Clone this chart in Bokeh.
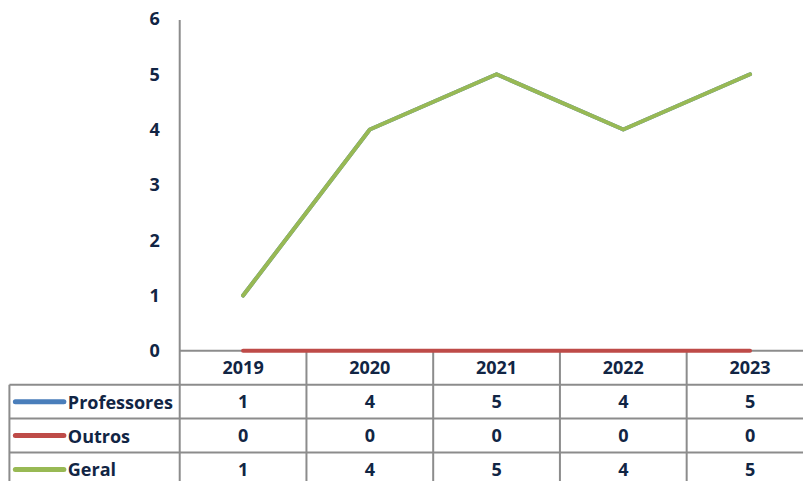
from bokeh.plotting import figure
from bokeh.models import Range1d
from bokeh.core.properties import value
from bokeh.embed import file_html
from bokeh.resources import INLINE

years = ["2019", "2020", "2021", "2022", "2023"]
professores = [1, 4, 5, 4, 5]
outros = [0, 0, 0, 0, 0]
geral = [1, 4, 5, 4, 5]
series_names = ["Professores", "Outros", "Geral"]
series_values = [professores, outros, geral]
series_colors = ["#4a7ebb", "#be4b48", "#98b954"]
y_ticks = [0, 1, 2, 3, 4, 5, 6]

# figure size and scale from the 811x497 design to the figure
W, H = 803, 481
SX = W / 811.0
SY = H / 497.0

# design geometry (reference pixels)
PX_X = 128.0 * SX     # pixels per category
PX_Y = 57.1667 * SY   # pixels per y unit
cx0 = 245 * SX        # centre of first category
cy0 = 362 * SY        # y = 0 position
x0 = (0 - cx0) / PX_X
x1 = (W - cx0) / PX_X
y1 = cy0 / PX_Y
y0 = (cy0 - H) / PX_Y
row_h = 35 * SY / PX_Y
left_edge = (9 * SX - cx0) / PX_X


def xpx(px):
    return (px * SX - cx0) / PX_X


FONT = value("Open Sans")
FS = "18px"
TXT = "#112544"
GRID = "#8c8c8c"

p = figure(width=W, height=H, output_backend="svg", toolbar_location=None,
           x_range=Range1d(x0, x1), y_range=Range1d(y0, y1),
           min_border=0, min_border_left=0, min_border_right=0,
           min_border_top=0, min_border_bottom=0)
p.axis.visible = False
p.grid.visible = False
p.outline_line_color = None
p.background_fill_color = "white"
p.border_fill_color = "white"

xs = list(range(len(years)))
n = len(years)

bottom = y0 - 1
# vertical axis line
p.segment(x0=[-0.5], y0=[max(y_ticks) - 0.02], x1=[-0.5], y1=[bottom], line_color=GRID, line_width=2)
# column separators
p.segment(x0=[i + 0.5 for i in xs], y0=[0] * n, x1=[i + 0.5 for i in xs], y1=[bottom] * n,
          line_color=GRID, line_width=2)
# table left border
p.segment(x0=[left_edge], y0=[-row_h], x1=[left_edge], y1=[bottom], line_color=GRID, line_width=2)
# horizontal axis line
p.segment(x0=[-0.5], y0=[0], x1=[x1 + 1], y1=[0], line_color=GRID, line_width=2)
# row separators
row_lines = [-row_h * (k + 1) for k in range(len(series_names))]
p.segment(x0=[left_edge] * len(row_lines), y0=row_lines, x1=[x1 + 1] * len(row_lines), y1=row_lines,
          line_color=GRID, line_width=2)

# series lines
for vals, col in zip(series_values, series_colors):
    p.line(xs, vals, line_color=col, line_width=4, line_cap="round", line_join="round")

# y tick labels
p.text(x=[-0.5] * len(y_ticks), y=y_ticks, text=[str(t) for t in y_ticks],
       x_offset=-20, text_align="right", text_baseline="middle",
       text_font=FONT, text_font_style="bold", text_font_size=FS, text_color=TXT)

# header row (years)
p.text(x=xs, y=[-row_h / 2] * n, text=years, text_align="center", text_baseline="middle",
       text_font=FONT, text_font_style="bold", text_font_size=FS, text_color=TXT)

# data rows
sw_x0 = xpx(15)
sw_x1 = xpx(64)
lab_x = xpx(68)
for k, (name, vals, col) in enumerate(zip(series_names, series_values, series_colors)):
    yc = -row_h * (k + 1.5)
    p.line([sw_x0, sw_x1], [yc, yc], line_color=col, line_width=5, line_cap="round")
    p.text(x=[lab_x], y=[yc], text=[name], text_align="left", text_baseline="middle",
           text_font=FONT, text_font_style="bold", text_font_size=FS, text_color=TXT)
    p.text(x=xs, y=[yc] * n, text=[str(v) for v in vals], text_align="center",
           text_baseline="middle", text_font=FONT, text_font_style="bold",
           text_font_size=FS, text_color=TXT)

open("out.html", "w").write(file_html(p, INLINE))
